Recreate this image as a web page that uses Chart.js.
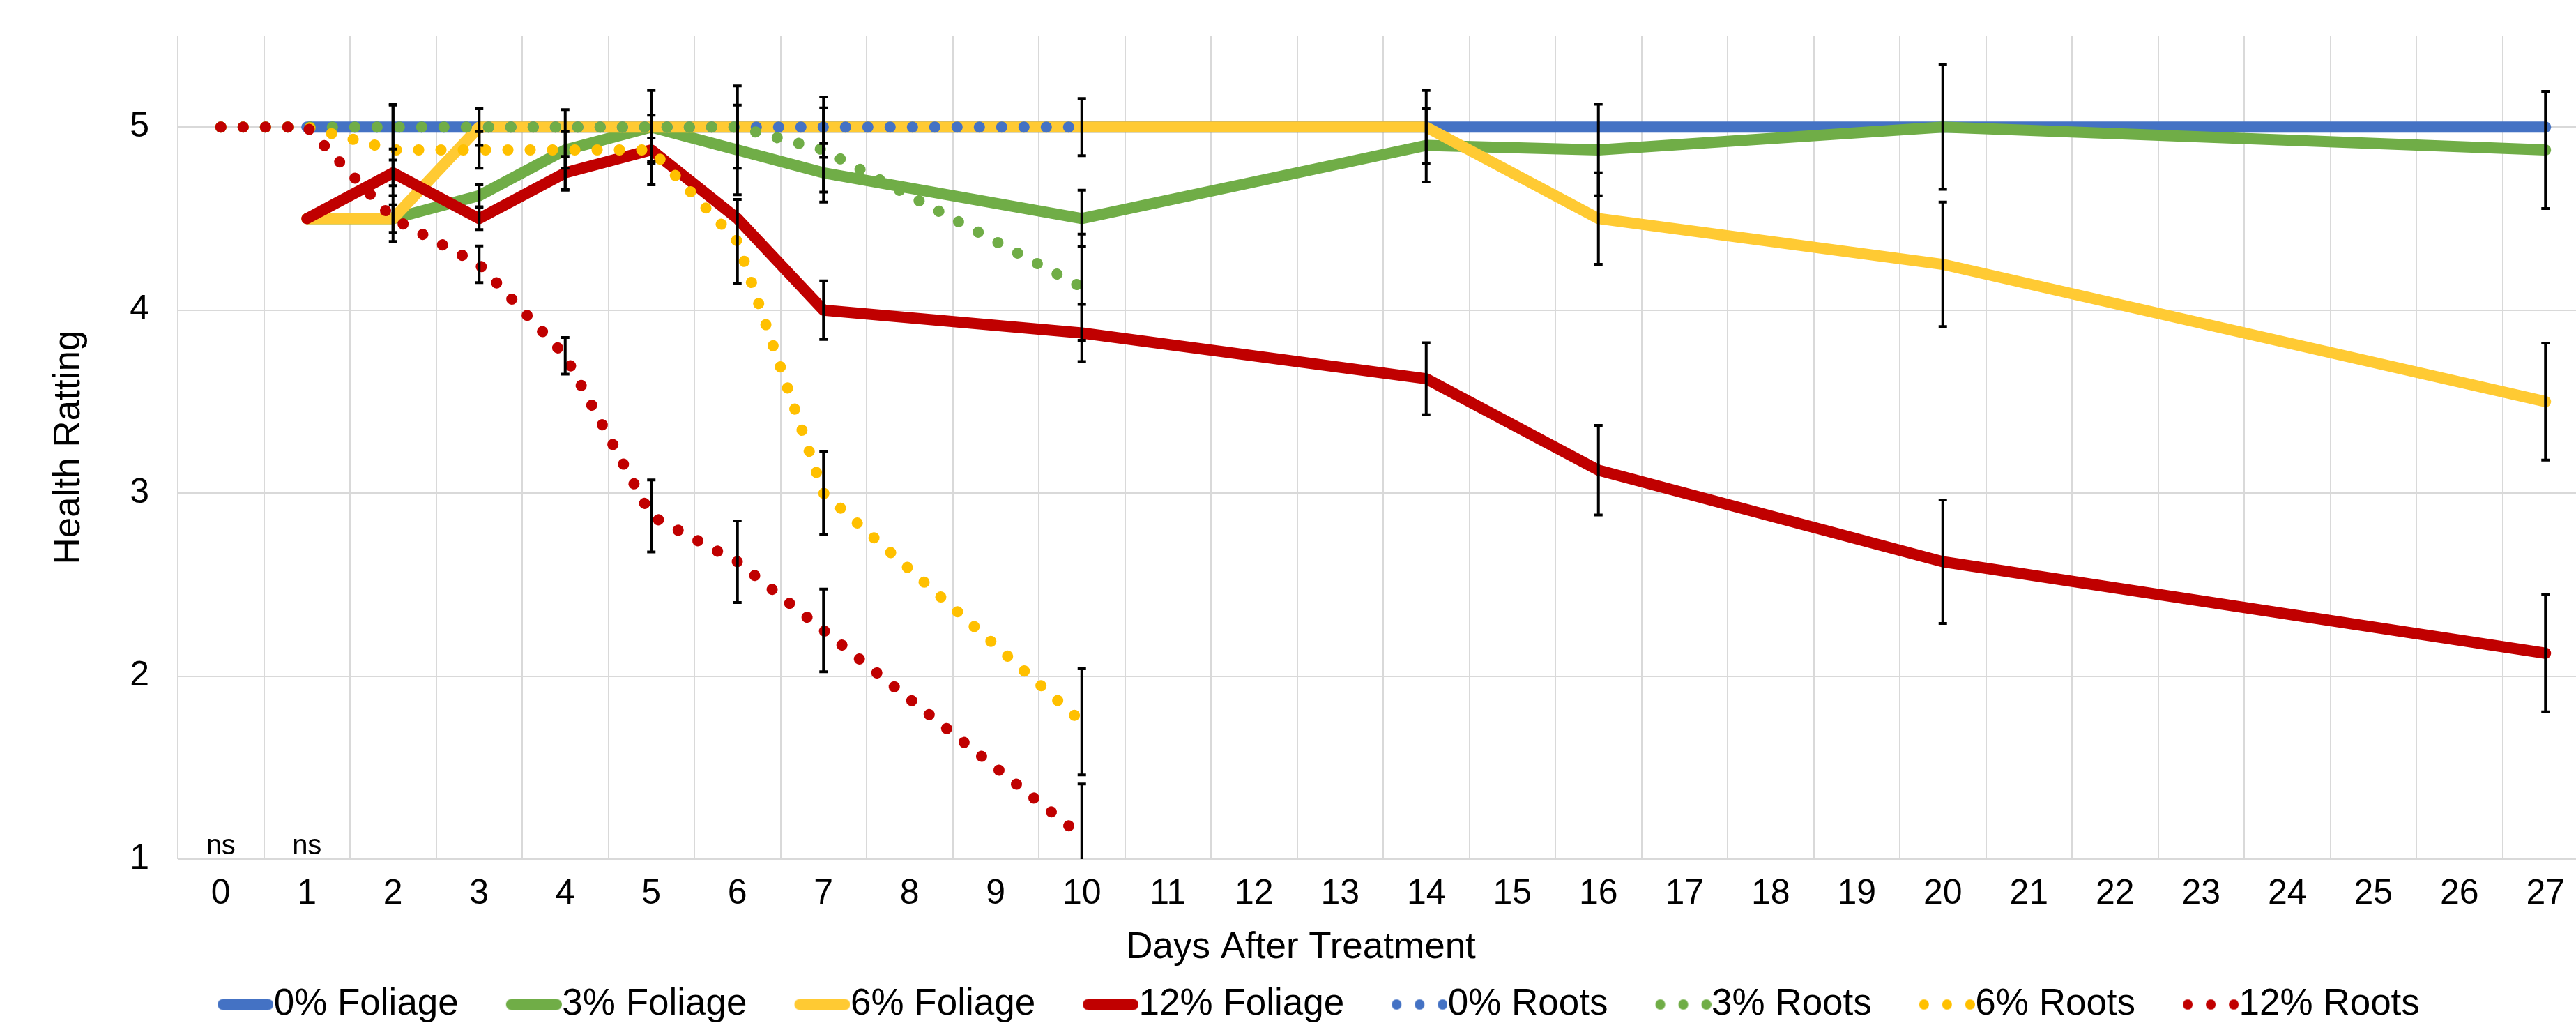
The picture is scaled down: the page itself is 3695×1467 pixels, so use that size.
<!DOCTYPE html>
<html>
<head>
<meta charset="utf-8">
<title>Health Ratting</title>
<script src="https://cdn.jsdelivr.net/npm/chart.js@4.4.1/dist/chart.umd.min.js"></script>
<style>
  html, body { margin: 0; padding: 0; background: #fff; overflow: hidden; }
  #wrap { width: 3732px; height: 1467px; position: relative; }
</style>
</head>
<body>
<div id="wrap"><canvas id="healthChart"></canvas></div>
<script>
// x categories (every day is on the axis, only some were rated)
const days = ['0','1','2','3','4','5','6','7','8','9','10','11','12','13','14','15','16','17','18','19','20','21','22','23','24','25','26','27'];
const ratedDays = [0, 1, 2, 3, 4, 5, 6, 7, 10, 14, 16, 20, 27];

// mean health rating per rated day (roots stop at day 10)
const foliage0  = [null, 5, 5, 5, 5, 5, 5, 5, 5, 5, 5, 5, 5];
const foliage3  = [null, 4.5, 4.5, 4.625, 4.875, 5, 4.875, 4.75, 4.5, 4.9, 4.875, 5, 4.875];
const foliage6  = [null, 4.5, 4.5, 5, 5, 5, 5, 5, 5, 5, 4.5, 4.25, 3.5];
const foliage12 = [null, 4.5, 4.75, 4.5, 4.75, 4.875, 4.5, 4, 3.875, 3.625, 3.125, 2.625, 2.125];
const roots0  = [5, 5, 5, 5, 5, 5, 5, 5, 5];
const roots3  = [5, 5, 5, 5, 5, 5, 5, 4.875, 4.125];
const roots6  = [5, 5, 4.875, 4.875, 4.875, 4.875, 4.375, 3, 1.75];
const roots12 = [5, 5, 4.5, 4.25, 3.75, 2.875, 2.625, 2.25, 1.125];

// error bar half lengths, same order as above
const foliage0Err  = [];
const foliage3Err  = [null, null, 0.075, 0.06, 0.1, null, 0.245, 0.16, 0.155, 0.2, 0.25, 0.34, 0.32];
const foliage6Err  = [null, null, 0.125, 0.1, null, 0.2, 0.225, 0.165, 0.156, 0.2, 0.25, 0.34, 0.32];
const foliage12Err = [null, null, 0.07, 0.06, 0.09, 0.19, null, 0.16, 0.156, 0.197, 0.245, 0.337, 0.32];
const roots0Err  = [];
const roots3Err  = [null, null, 0.12, null, null, null, null, 0.23, 0.29];
const roots6Err  = [null, null, 0.25, 0.1, 0.22, 0.065, 0.23, 0.226, 0.29];
const roots12Err = [null, null, null, 0.1, 0.1, 0.197, 0.223, 0.226, 0.286];

// "ns" marks under the first two days
const sigDays = ['0', '1'];
const sigLabels = ['ns', 'ns'];

const yTitle = 'Health Ratting';
const xTitle = 'Days After Treatment';

const FONT = "'Liberation Sans', Arial, Helvetica, sans-serif";
Chart.defaults.font.family = FONT;
Chart.defaults.color = '#000';

// legend sample: thick line or three dots, drawn right next to the text
function legendMarker(color, dotted) {
    const c = document.createElement('canvas');
    c.width = 146; c.height = 20;
    const g = c.getContext('2d');
    g.fillStyle = color; g.strokeStyle = color;
    if (dotted) {
        [73, 106, 139].forEach(cx => {
            g.beginPath(); g.ellipse(cx, 10, 7, 7.5, 0, 0, Math.PI * 2); g.fill();
        });
    } else {
        g.lineWidth = 16; g.lineCap = 'round';
        g.beginPath(); g.moveTo(74, 10); g.lineTo(138, 10); g.stroke();
    }
    return c;
}

const pts = vals => vals.map((v, i) => ({ x: String(ratedDays[i]), y: v }));

function line(label, vals, errs, color, dotted, i) {
    return {
        label: label,
        data: pts(vals),
        errors: errs,
        borderColor: color,
        backgroundColor: color,
        borderWidth: 16,
        borderDash: dotted ? [0.1, 31.9] : [],
        borderCapStyle: 'round',
        borderJoinStyle: 'round',
        pointRadius: 0,
        pointHoverRadius: 0,
        pointStyle: legendMarker(color, dotted),
        spanGaps: true,
        tension: 0,
        order: 7 - i   // later series on top, like the original
    };
}

// error bars + the ns marks + x title (centred on the whole chart)
const extras = {
    id: 'extras',
    afterDatasetsDraw(chart) {
        const ctx = chart.ctx, y = chart.scales.y, a = chart.chartArea;
        ctx.save();
        ctx.beginPath(); ctx.rect(a.left, a.top, a.right - a.left, a.bottom - a.top); ctx.clip();
        ctx.strokeStyle = '#000';
        ctx.lineWidth = 4;
        chart.data.datasets.forEach((ds, di) => {
            const meta = chart.getDatasetMeta(di);
            (ds.errors || []).forEach((e, k) => {
                const v = ds.data[k] && ds.data[k].y;
                if (e == null || v == null) return;
                const px = meta.data[k].x;
                const top = y.getPixelForValue(v + e), bot = y.getPixelForValue(v - e);
                ctx.beginPath();
                ctx.moveTo(px, top); ctx.lineTo(px, bot);
                ctx.moveTo(px - 6, top); ctx.lineTo(px + 6, top);
                ctx.moveTo(px - 6, bot); ctx.lineTo(px + 6, bot);
                ctx.stroke();
            });
        });
        ctx.restore();
    },
    afterDraw(chart) {
        const ctx = chart.ctx, x = chart.scales.x, y = chart.scales.y;
        ctx.save();
        ctx.fillStyle = '#000';
        ctx.textAlign = 'center';
        ctx.font = '40px ' + FONT;
        ctx.textBaseline = 'alphabetic';
        sigDays.forEach((d, i) => {
            ctx.fillText(sigLabels[i], x.getPixelForValue(days.indexOf(d)), y.getPixelForValue(y.min) - 7);
        });
        ctx.font = '53px ' + FONT;
        ctx.textBaseline = 'middle';
        ctx.fillText(xTitle, chart.width / 2, x.top + 127);
        ctx.restore();
    }
};

new Chart(document.getElementById('healthChart'), {
    type: 'line',
    data: {
        labels: days,
        datasets: [
            line('0% Foliage', foliage0, foliage0Err, '#4472C4', false, 0),
            line('3% Foliage', foliage3, foliage3Err, '#70AD47', false, 1),
            line('6% Foliage', foliage6, foliage6Err, '#FFCA33', false, 2),
            line('12% Foliage', foliage12, foliage12Err, '#C00000', false, 3),
            line('0% Roots', roots0, roots0Err, '#4472C4', true, 4),
            line('3% Roots', roots3, roots3Err, '#70AD47', true, 5),
            line('6% Roots', roots6, roots6Err, '#FFC000', true, 6),
            line('12% Roots', roots12, roots12Err, '#C00000', true, 7)
        ]
    },
    options: {
        responsive: true, maintainAspectRatio: false,
        animation: false,
        events: [],
        layout: { padding: { left: 30, right: 19, top: 51, bottom: -10 } },
        plugins: {
            legend: {
                position: 'bottom',
                labels: {
                    usePointStyle: true,
                    pointStyleWidth: 94,
                    padding: 28,
                    font: { size: 53 },
                    color: '#000',
                    sort: (a, b) => a.datasetIndex - b.datasetIndex
                }
            },
            tooltip: { enabled: false }
        },
        scales: {
            x: {
                offset: true,
                grid: { offset: true, color: '#d9d9d9', lineWidth: 2, drawTicks: false },
                border: { display: false },
                ticks: { font: { size: 50 }, padding: 20, autoSkip: false, maxRotation: 0 },
                afterFit: s => { s.height = 154; }
            },
            y: {
                min: 1, max: 5.5,
                ticks: { stepSize: 1, font: { size: 50 }, padding: 41 },
                afterBuildTicks: s => { s.ticks = s.ticks.filter(t => Number.isInteger(t.value)); },
                grid: { color: '#d9d9d9', lineWidth: 2, drawTicks: false },
                border: { display: false },
                title: { display: true, text: yTitle, font: { size: 53 }, padding: { top: 38, bottom: 0 } },
                // fixed width; drop the label overhang so the plot can reach y = 5.5 at the top
                afterFit: s => { s.width = 225; s.paddingTop = 0; s.paddingBottom = 0; }
            }
        }
    },
    plugins: [extras]
});
</script>
</body>
</html>
